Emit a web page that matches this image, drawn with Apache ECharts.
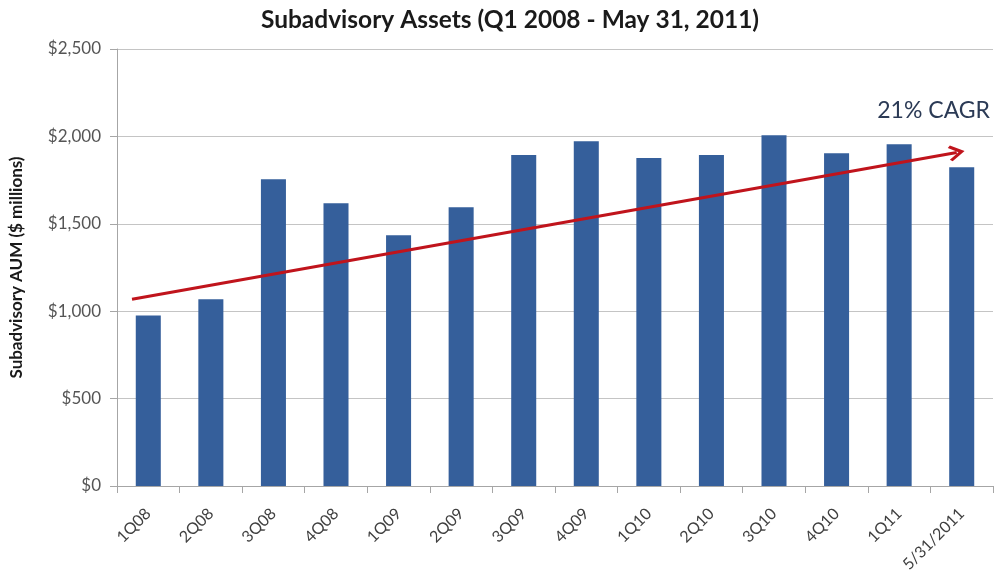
<!DOCTYPE html>
<html>
<head>
<meta charset="utf-8">
<script src="https://cdn.jsdelivr.net/npm/echarts@6/dist/echarts.min.js"></script>
<style>
  html, body { margin: 0; padding: 0; background: #ffffff; }
  #chart { width: 997px; height: 579px; }
</style>
</head>
<body>
<div id="chart"></div>
<script>
// Quarter-end subadvisory assets under management ($ millions)
const categories = ['1Q08', '2Q08', '3Q08', '4Q08', '1Q09', '2Q09', '3Q09', '4Q09',
  '1Q10', '2Q10', '3Q10', '4Q10', '1Q11', '5/31/2011'];
const assets = [975, 1068, 1755, 1618, 1435, 1595, 1893, 1972, 1876, 1893, 2006, 1903, 1955, 1823];

// Trend arrow: [position along the category axis, value]
const trendStart = [0.24, 1068];
const trendEnd = [13.42, 1908];
const trendLabel = '21% CAGR';

const yTicks = [0, 500, 1000, 1500, 2000, 2500];

const font = 'Lato, "Open Sans", sans-serif';
// open chevron arrow head, pointing up before rotation
const chevron = 'path://M10,0 L20,11 L17.5,13 L10,5 L2.5,13 L0,11 Z';

const chart = echarts.init(document.getElementById('chart'));

chart.setOption({
  backgroundColor: '#ffffff',
  animation: false,
  title: {
    text: 'Subadvisory Assets (Q1 2008 - May 31, 2011)',
    left: 505,
    textAlign: 'center',
    top: 3,
    textStyle: { fontFamily: font, fontSize: 24.5, fontWeight: 'bold', color: '#1a1a1a' }
  },
  grid: { left: 117, right: 4, top: 49, bottom: 93 },
  xAxis: [
    {
      type: 'category',
      data: categories,
      axisLine: { lineStyle: { color: '#a6a6a6' } },
      axisTick: { show: true, length: 7, lineStyle: { color: '#a6a6a6' } },
      axisLabel: { rotate: 45, fontFamily: font, fontSize: 16, color: '#404040', margin: 25 }
    },
    {
      type: 'value',
      min: 0,
      max: categories.length,
      show: false
    }
  ],
  yAxis: {
    type: 'value',
    min: yTicks[0],
    max: yTicks[yTicks.length - 1],
    interval: 500,
    name: 'Subadvisory AUM ($ millions)',
    nameLocation: 'middle',
    nameGap: 92,
    nameTextStyle: { fontFamily: font, fontSize: 17, fontWeight: 'bold', color: '#1a1a1a' },
    axisLine: { show: true, lineStyle: { color: '#a6a6a6' } },
    axisTick: { show: true, length: 7, lineStyle: { color: '#a6a6a6' } },
    splitLine: { lineStyle: { color: '#c4c4c4' } },
    axisLabel: {
      fontFamily: font, fontSize: 17, color: '#555555', margin: 16,
      formatter: v => '$' + v.toLocaleString('en-US')
    }
  },
  series: [
    {
      type: 'bar',
      data: assets,
      barCategoryGap: '60%',
      itemStyle: { color: '#355f9b' }
    },
    {
      type: 'line',
      xAxisIndex: 1,
      data: [],
      markLine: {
        silent: true,
        symbol: ['none', chevron],
        symbolSize: 16,
        lineStyle: { color: '#c0141c', width: 3, type: 'solid' },
        itemStyle: { color: '#c0141c' },
        label: { show: false },
        data: [[
          { coord: trendStart },
          { coord: trendEnd }
        ]]
      }
    }
  ],
  graphic: [
    {
      type: 'text',
      right: 7,
      top: 99,
      style: {
        text: trendLabel,
        font: '23px ' + font,
        fill: '#2b3a55'
      }
    }
  ]
});
</script>
</body>
</html>
